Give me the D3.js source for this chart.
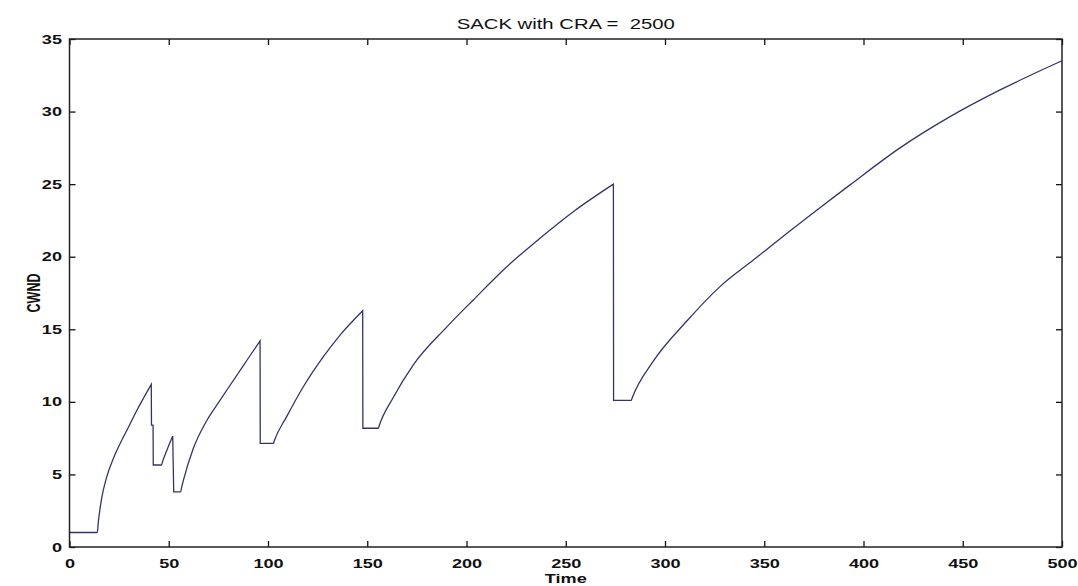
<!DOCTYPE html>
<html>
<head>
<meta charset="utf-8">
<style>
html, body { margin:0; padding:0; background:white; }
svg { display:block; font-family:"Liberation Sans", Arial, sans-serif; }
</style>
</head>
<body>
<div id="chart"></div>
<script src="https://d3js.org/d3.v7.min.js"></script>
<script>
// values (time, cwnd)
const timeVals = [0, 14, 14.5, 16.2, 18.7, 22.1, 25.4, 29.5, 33.9, 41.2, 41.3, 42.1, 42.2, 46.4, 46.7, 49, 52.0, 52.5, 56.0,
  56.4, 57.3, 62.4, 69.1, 75.8, 79.2, 89.3, 96.0, 96.1, 102.7, 103.1, 109.4, 117.8, 127.9, 136.3, 147.7, 147.8, 155.6,
  156.0, 163.1, 173.2, 190.0, 203.4, 220.3, 237.0, 253.8, 274.0, 274.1, 283.0,
  283.4, 294.1, 310.9, 327.7, 344.5, 361.3, 376.4, 393.2, 418.4, 443.6, 468.8, 500];
const cwndVals = [1, 1, 1.7, 3.35, 4.8, 6.1, 7.1, 8.2, 9.4, 11.2, 8.4, 8.4, 5.65, 5.65, 5.8, 6.65, 7.65, 3.8, 3.8,
  4.05, 4.55, 6.8, 8.7, 10.1, 10.8, 12.85, 14.2, 7.14, 7.14, 7.3, 8.98, 11.04, 13.11, 14.6, 16.28, 8.18, 8.18,
  8.35, 10.3, 12.55, 15.15, 17.02, 19.31, 21.27, 23.1, 25.0, 10.1, 10.1,
  10.25, 12.8, 15.55, 17.94, 19.77, 21.6, 23.2, 24.95, 27.5, 29.65, 31.49, 33.5];
const xTicks = [0, 50, 100, 150, 200, 250, 300, 350, 400, 450, 500];
const yTicks = [0, 5, 10, 15, 20, 25, 30, 35];
const titleText = "SACK with CRA =  2500";
const xLabel = "Time";
const yLabel = "CWND";

const W = 1078, H = 586;
const margin = {top: 39, right: 16, bottom: 39, left: 69.5};
const width = W - margin.left - margin.right,
      height = H - margin.top - margin.bottom;
const stretch = 1.45; // the picture's text is wide

const svg = d3.select("#chart").append("svg")
  .attr("width", W).attr("height", H);

const x = d3.scaleLinear().domain([0, 500]).range([0, width]);
const y = d3.scaleLinear().domain([0, 35]).range([height, 0]);

const data = timeVals.map((t, i) => ({t: t, v: cwndVals[i]}));

// split at every drop so each rise is smoothed alone and the drops stay straight
const pieces = [];
let cur = [data[0]];
for (let i = 1; i < data.length; i++) {
  if (data[i].v < data[i - 1].v) { pieces.push(cur); cur = []; }
  cur.push(data[i]);
}
pieces.push(cur);

const line = d3.line().x(d => x(d.t)).y(d => y(d.v)).curve(d3.curveMonotoneX);
const pathD = pieces.map((p, i) => {
  const s = p.length > 1 ? line(p) : `M${x(p[0].t)},${y(p[0].v)}`;
  return i === 0 ? s : "L" + s.slice(1);
}).join("");

const g = svg.append("g").attr("transform", `translate(${margin.left},${margin.top})`);

g.append("path")
  .attr("fill", "none")
  .attr("stroke", "#34346c")
  .attr("stroke-width", 1.3)
  .attr("d", pathD);

// axes, ticks point inward
const left = g.append("g")
  .call(d3.axisLeft(y).tickValues(yTicks).tickSizeInner(-6).tickSizeOuter(0).tickPadding(7));
left.selectAll("text")
  .attr("x", -7.5 / stretch)
  .attr("transform", `scale(${stretch},1)`);

const bottom = g.append("g")
  .attr("transform", `translate(0,${height})`)
  .call(d3.axisBottom(x).tickValues(xTicks).tickSizeInner(-6).tickSizeOuter(0).tickPadding(12));
bottom.selectAll("text").attr("transform", `scale(${stretch},1)`);

g.append("g")
  .call(d3.axisTop(x).tickValues(xTicks).tickSizeInner(-6).tickSizeOuter(0).tickFormat(""));
g.append("g")
  .attr("transform", `translate(${width},0)`)
  .call(d3.axisRight(y).tickValues(yTicks).tickSizeInner(-6).tickSizeOuter(0).tickFormat(""));

g.selectAll(".domain").remove();
g.selectAll(".tick line").attr("stroke", "#111").attr("stroke-width", 1.3);
g.selectAll(".tick text")
  .attr("fill", "#111")
  .style("font-size", "12.5px")
  .style("font-weight", "bold")
  .style("font-family", "'Liberation Sans', Arial, sans-serif");

g.append("rect")
  .attr("width", width).attr("height", height)
  .attr("fill", "none")
  .attr("stroke", "#222")
  .attr("stroke-width", 1.5);

// title and labels
svg.append("text")
  .attr("transform", `translate(${margin.left + width / 2},29) scale(${stretch},1)`)
  .attr("text-anchor", "middle")
  .style("font-size", "14px")
  .style("white-space", "pre")
  .attr("fill", "#111")
  .text(titleText);

svg.append("text")
  .attr("transform", `translate(${margin.left + width / 2},583) scale(${stretch},1)`)
  .attr("text-anchor", "middle")
  .style("font-size", "12.5px")
  .style("font-weight", "bold")
  .attr("fill", "#111")
  .text(xLabel);

svg.append("text")
  .attr("transform", `translate(40,${margin.top + height / 2}) scale(${stretch},1) rotate(-90)`)
  .attr("text-anchor", "middle")
  .style("font-size", "12.5px")
  .style("font-weight", "bold")
  .attr("fill", "#111")
  .text(yLabel);
</script>
</body>
</html>
